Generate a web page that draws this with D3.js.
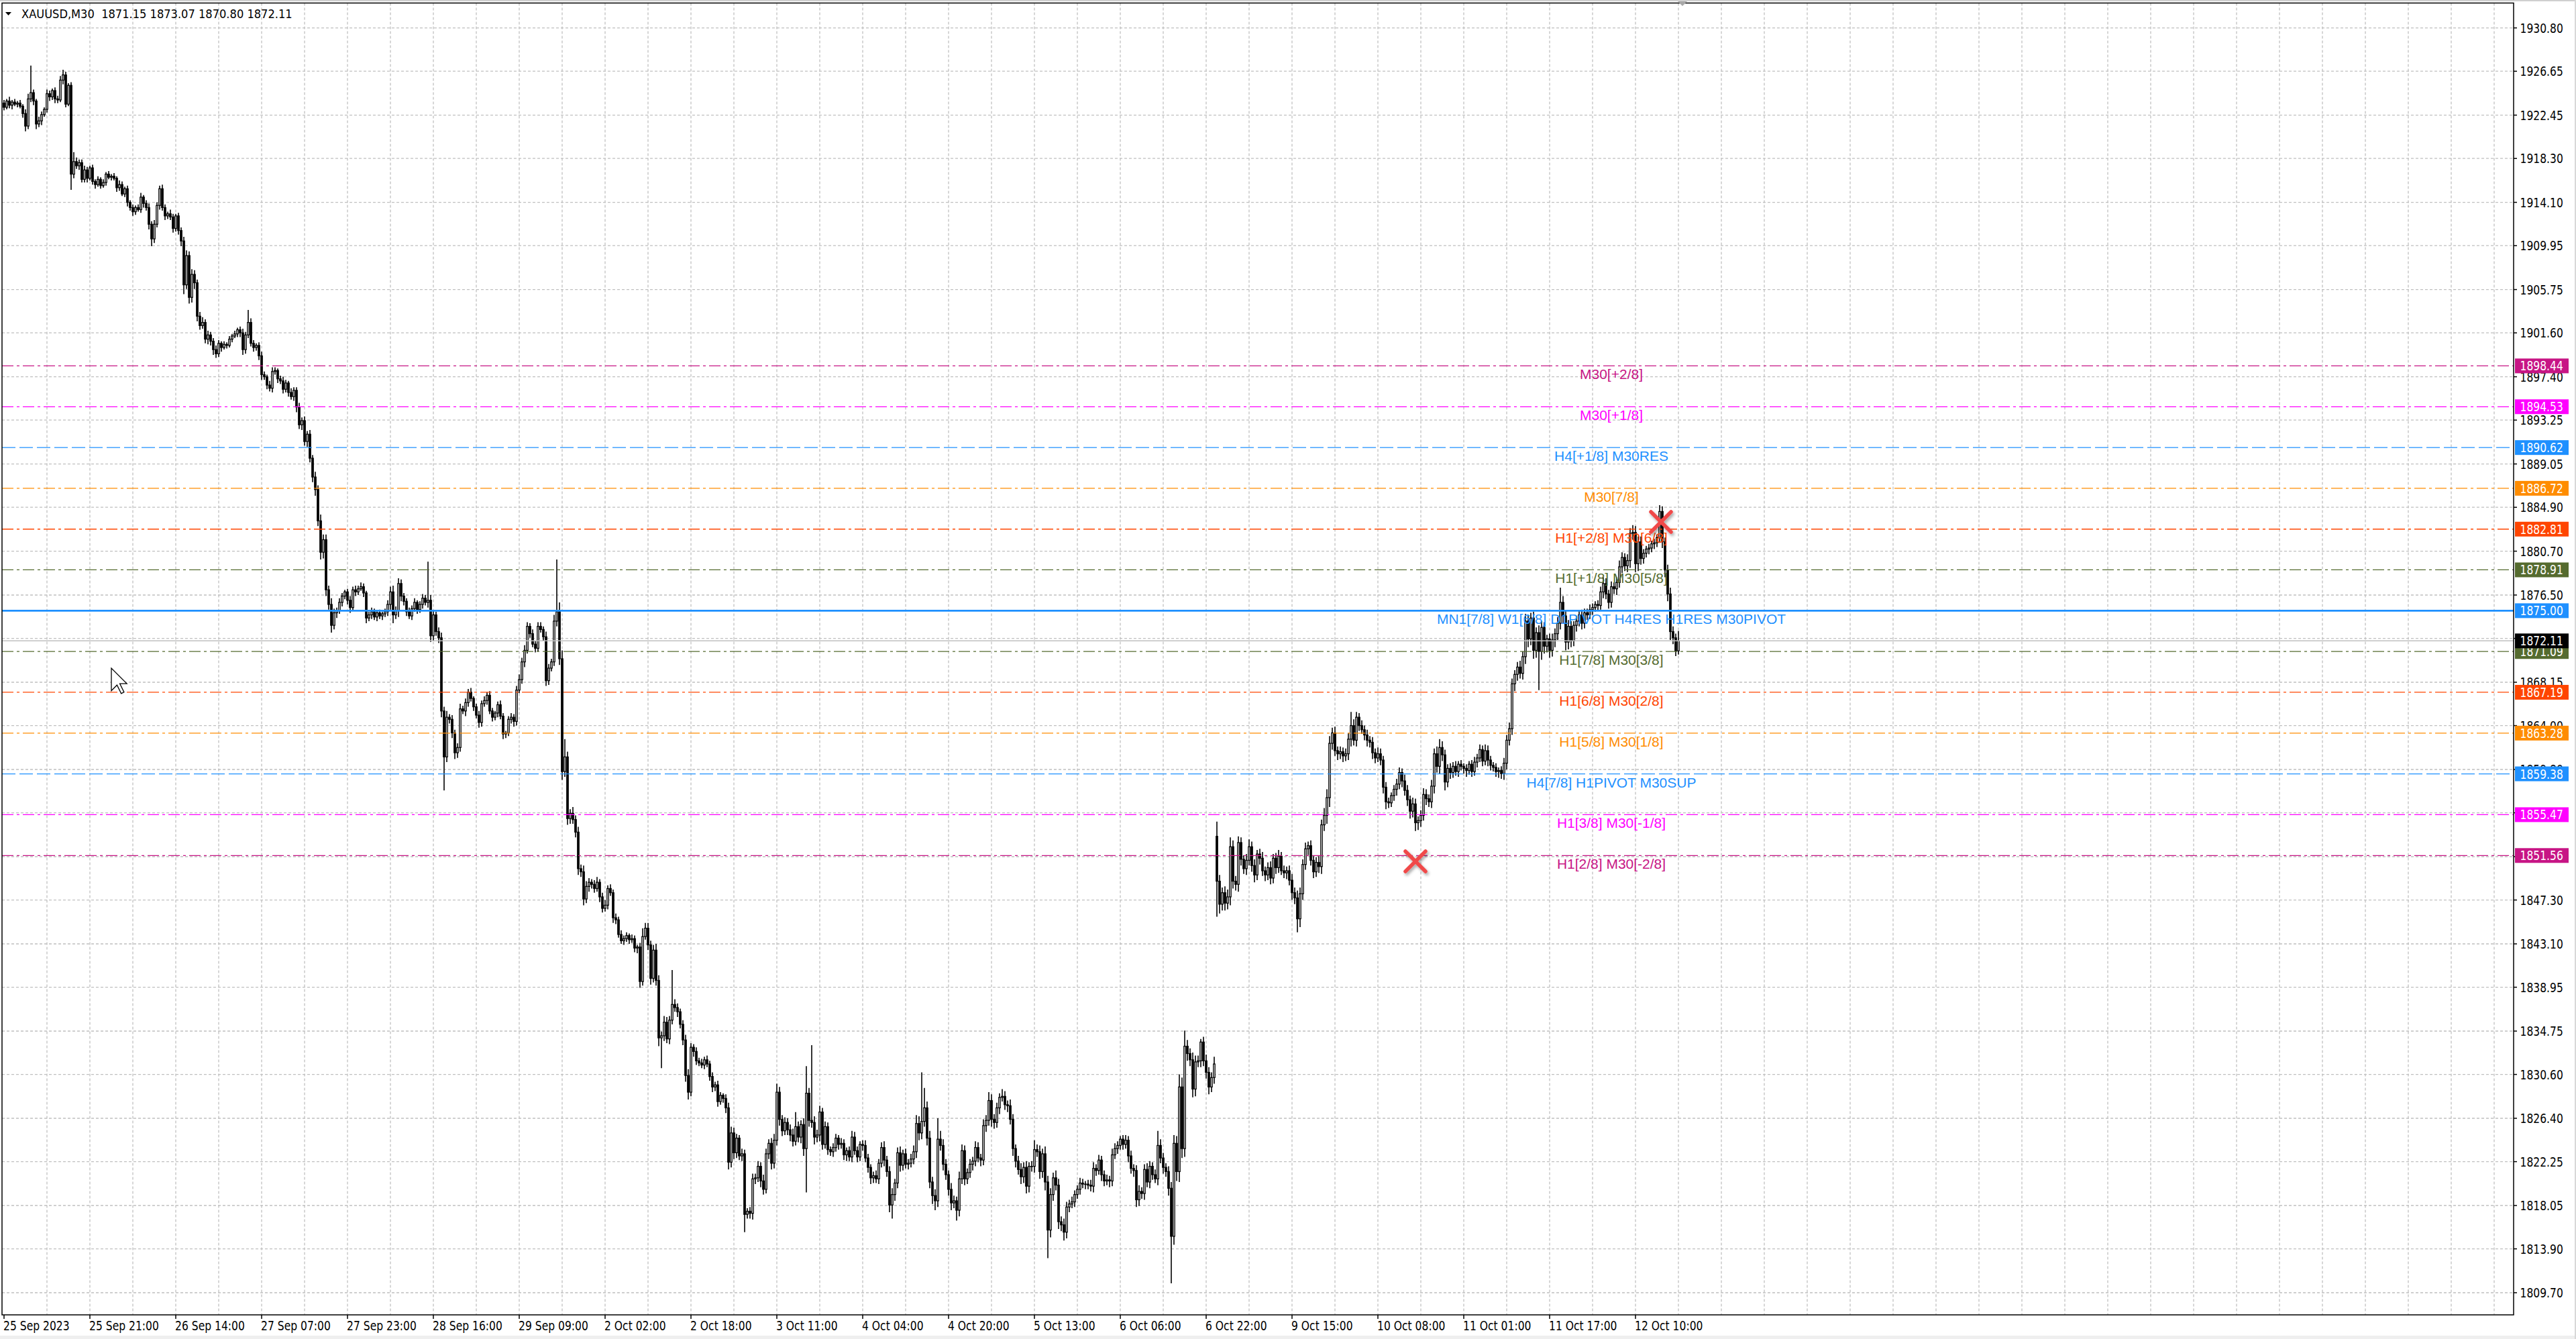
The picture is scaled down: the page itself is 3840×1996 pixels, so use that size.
<!DOCTYPE html>
<html>
<head>
<meta charset="utf-8">
<script src="https://cdn.jsdelivr.net/npm/d3@7"></script>
<style>
html, body { margin: 0; padding: 0; background: #fff; overflow: hidden; }
svg { display: block; }
</style>
</head>
<body>
<svg id="chart" width="3840" height="1996"></svg>
<script>
// XAUUSD M30 chart, 25 Sep - 12 Oct 2023

const symbolTitle = 'XAUUSD,M30';
const lastOHLC = [1871.15, 1873.07, 1870.80, 1872.11];
const bidPrice = 1872.11;

// open of the first bar and of the bar after the weekend gap,
// every other bar opens at the previous close
const firstOpen = 1923.6;
const gapOpen = {452: 1853.4};

const closes = [
  1923.2, 1923.8, 1923.4, 1923.7, 1923.5, 1923.6, 1923.3, 1922.6, 1921.4, 1924.0,
  1924.6, 1923.8, 1921.6, 1921.9, 1922.5, 1923.0, 1924.5, 1924.2, 1924.8, 1924.0,
  1923.9, 1925.8, 1926.3, 1923.5, 1925.3, 1916.8, 1918.0, 1917.6, 1917.9, 1916.3,
  1917.2, 1916.4, 1917.4, 1916.1, 1915.8, 1916.3, 1915.7, 1916.0, 1916.8, 1916.5,
  1916.6, 1916.4, 1915.5, 1915.8, 1914.9, 1915.4, 1914.1, 1913.6, 1913.2, 1913.6,
  1913.4, 1914.6, 1914.0, 1913.6, 1912.0, 1910.6, 1912.0, 1913.8, 1915.4, 1913.6,
  1912.8, 1913.0, 1912.7, 1911.6, 1912.8, 1911.4, 1910.4, 1906.2, 1909.0, 1905.0,
  1907.2, 1906.4, 1903.2, 1902.3, 1902.6, 1901.0, 1901.4, 1900.8, 1900.0, 1899.6,
  1900.6, 1900.2, 1900.5, 1900.4, 1901.0, 1901.3, 1901.5, 1901.9, 1901.6, 1900.0,
  1901.4, 1902.6, 1900.6, 1900.2, 1900.4, 1899.4, 1897.6, 1897.4, 1896.6, 1896.3,
  1897.9, 1898.0, 1897.2, 1897.0, 1896.2, 1896.8, 1895.9, 1895.5, 1896.1, 1894.5,
  1892.8, 1893.2, 1891.2, 1891.9, 1889.6, 1887.8, 1886.6, 1883.6, 1880.6, 1881.8,
  1877.0, 1875.6, 1873.6, 1874.8, 1875.0, 1875.8, 1876.4, 1876.8, 1876.0, 1875.3,
  1877.0, 1876.8, 1877.1, 1877.3, 1876.7, 1874.3, 1874.6, 1874.9, 1874.4, 1874.8,
  1874.5, 1874.7, 1874.9, 1875.6, 1876.8, 1874.6, 1875.0, 1877.6, 1876.4, 1875.9,
  1874.9, 1874.5, 1875.2, 1875.8, 1875.1, 1875.6, 1876.2, 1875.8, 1876.0, 1872.6,
  1874.6, 1873.0, 1872.4, 1865.4, 1861.0, 1864.8, 1864.6, 1863.3, 1861.4, 1861.9,
  1865.6, 1865.4, 1866.2, 1867.2, 1866.6, 1865.8, 1865.0, 1864.3, 1866.1, 1866.4,
  1866.9, 1865.4, 1864.8, 1865.2, 1866.0, 1864.9, 1863.2, 1863.3, 1864.6, 1864.8,
  1864.4, 1867.4, 1868.4, 1870.1, 1871.2, 1873.5, 1872.8, 1871.8, 1871.4, 1873.5,
  1873.2, 1872.5, 1868.3, 1869.5, 1870.1, 1874.0, 1874.9, 1870.4, 1859.6, 1861.0,
  1855.1, 1855.6, 1855.0, 1853.8, 1850.3, 1850.0, 1847.4, 1848.6, 1849.0, 1848.8,
  1848.4, 1849.0, 1847.6, 1846.5, 1846.8, 1848.4, 1848.0, 1845.6, 1845.4, 1844.0,
  1843.4, 1843.6, 1843.9, 1843.5, 1843.6, 1842.7, 1842.8, 1839.5, 1843.8, 1844.6,
  1843.0, 1839.8, 1842.5, 1839.6, 1834.1, 1834.3, 1835.6, 1834.0, 1835.8, 1837.3,
  1837.0, 1836.6, 1835.4, 1833.9, 1830.5, 1828.9, 1833.2, 1832.8, 1831.9, 1831.7,
  1831.5, 1832.0, 1831.6, 1830.4, 1829.4, 1829.6, 1828.0, 1828.6, 1828.3, 1827.4,
  1822.2, 1825.0, 1823.1, 1824.5, 1822.8, 1823.0, 1817.2, 1817.5, 1817.3, 1820.6,
  1820.7, 1821.8, 1820.4, 1819.6, 1823.0, 1824.0, 1822.1, 1824.3, 1828.9, 1826.3,
  1825.2, 1826.0, 1825.3, 1824.8, 1824.2, 1825.6, 1824.6, 1825.8, 1823.5, 1828.8,
  1826.2, 1826.0, 1824.6, 1824.8, 1827.0, 1823.9, 1825.6, 1823.4, 1823.2, 1823.6,
  1824.5, 1823.9, 1824.0, 1822.9, 1823.3, 1822.7, 1824.6, 1823.3, 1822.7, 1823.9,
  1823.8, 1822.6, 1821.7, 1820.7, 1820.9, 1820.6, 1822.1, 1823.6, 1822.4, 1821.3,
  1818.1, 1819.1, 1820.2, 1823.1, 1821.9, 1823.0, 1822.0, 1822.1, 1822.5, 1823.2,
  1825.9, 1825.0, 1826.1, 1827.4, 1824.5, 1820.3, 1819.0, 1818.5, 1824.4, 1823.8,
  1822.0, 1821.0, 1819.6, 1818.3, 1818.5, 1817.6, 1820.6, 1823.3, 1820.6, 1821.2,
  1822.0, 1822.3, 1823.6, 1822.6, 1822.4, 1825.7, 1826.2, 1828.1, 1826.3, 1826.0,
  1827.4, 1828.4, 1828.5, 1827.7, 1827.6, 1826.3, 1823.5, 1822.3, 1821.5, 1820.8,
  1821.7, 1819.9, 1821.8, 1821.8, 1823.4, 1823.2, 1821.3, 1823.0, 1820.3, 1815.7,
  1819.1, 1820.7, 1820.0, 1816.5, 1816.2, 1815.5, 1817.9, 1818.2, 1818.4, 1819.1,
  1819.6, 1820.2, 1820.1, 1820.1, 1820.0, 1819.9, 1821.6, 1821.4, 1822.4, 1821.0,
  1820.4, 1820.5, 1820.4, 1822.9, 1823.5, 1823.8, 1824.4, 1823.9, 1824.3, 1822.8,
  1821.6, 1821.4, 1818.6, 1819.4, 1819.2, 1821.5, 1820.3, 1821.8, 1821.0, 1820.6,
  1823.8, 1822.6, 1821.7, 1821.3, 1819.7, 1815.1, 1824.0, 1821.3, 1829.4, 1823.5,
  1833.3, 1832.6, 1832.0, 1829.2, 1831.8, 1831.9, 1833.7, 1831.9, 1830.8, 1829.4,
  1830.3, 1831.6, 1849.1, 1846.9, 1848.0, 1847.0, 1847.6, 1852.4, 1849.1, 1848.8,
  1852.8, 1851.2, 1850.3, 1851.1, 1852.4, 1850.6, 1849.7, 1851.7, 1851.3, 1850.1,
  1849.7, 1850.4, 1849.4, 1851.3, 1850.4, 1851.5, 1850.1, 1849.9, 1850.1, 1849.2,
  1848.0, 1847.5, 1845.5, 1847.9, 1850.7, 1852.2, 1852.5, 1851.1, 1850.0, 1850.9,
  1850.5, 1854.5, 1855.4, 1857.1, 1862.3, 1863.3, 1861.6, 1861.3, 1861.5, 1861.1,
  1861.3, 1862.7, 1864.0, 1862.6, 1864.8, 1864.0, 1863.6, 1863.1, 1862.6, 1862.4,
  1861.4, 1860.9, 1861.3, 1860.7, 1858.1, 1856.7, 1856.6, 1857.3, 1857.9, 1858.4,
  1859.5, 1858.7, 1857.8, 1856.9, 1855.8, 1856.5, 1854.7, 1854.9, 1855.4, 1857.4,
  1857.0, 1856.7, 1858.2, 1861.3, 1860.1, 1861.9, 1861.2, 1858.6, 1859.9, 1859.5,
  1860.1, 1859.6, 1860.3, 1860.1, 1859.9, 1859.7, 1860.3, 1859.6, 1860.5, 1860.9,
  1861.7, 1860.6, 1861.6, 1860.7, 1860.2, 1860.0, 1859.6, 1859.7, 1859.4, 1860.4,
  1862.6, 1863.7, 1868.0, 1868.9, 1869.6, 1869.0, 1870.6, 1874.0, 1872.3, 1874.3,
  1871.2, 1872.9, 1871.1, 1873.4, 1871.6, 1872.3, 1871.2, 1872.2, 1872.8, 1873.8,
  1875.8, 1874.5, 1872.0, 1873.5, 1872.1, 1873.6, 1874.0, 1874.6, 1873.8, 1874.8,
  1874.6, 1875.1, 1875.3, 1875.6, 1875.5, 1876.8, 1877.6, 1876.6, 1875.8, 1877.3,
  1877.1, 1877.7, 1879.2, 1880.1, 1879.3, 1879.8, 1882.4, 1882.5, 1879.5, 1881.6,
  1880.0, 1880.5, 1880.9, 1881.0, 1881.4, 1881.5, 1882.0, 1884.5, 1881.6, 1878.9,
  1876.6, 1873.0, 1872.4, 1871.15, 1872.11
];

// upper and lower shadows, in tenths of a dollar beyond the body
const wickHi = [
  3,2,4,2,3,2,3,2,4,5, 26,3,2,4,3,2,4,3,2,3, 3,4,5,3,2,3,9,4,3,3, 4,3,2,3,2,3,2,3,2,3,
  2,3,2,4,3,2,3,2,3,2, 3,4,2,3,4,3,4,3,3,4, 3,2,4,3,2,3,3,4,5,4, 5,4,3,4,5,3,4,3,3,4,
  3,2,3,2,3,2,3,2,3,4, 3,12,4,3,2,3,4,3,2,4, 4,3,2,3,4,3,2,4,3,3, 4,3,4,3,4,3,5,4,6,5,
  5,4,6,4,3,4,3,2,3,4, 3,4,3,4,3,2,3,4,3,2, 3,2,3,4,5,6,4,5,4,3, 3,4,3,4,2,3,4,3,37,5,
  4,3,4,5,4,6,3,4,3,4, 5,3,4,3,4,2,3,4,3,4, 3,4,3,2,3,4,3,2,3,4, 3,4,5,4,5,4,3,4,3,4,
  4,3,5,4,3,6,50,9,8,17, 5,4,6,4,5,4,6,5,4,3, 4,5,3,4,5,3,4,3,4,3, 4,3,3,2,4,3,2,4,8,5,
  5,4,5,6,5,4,6,5,4,33, 5,4,3,4,5,6,4,3,4,3, 4,3,4,3,4,3,4,3,2,4, 5,6,5,4,3,5,4,3,4,5,
  4,5,4,6,5,4,5,6,8,5, 4,5,4,5,6,14,5,4,6,26, 5,72,6,5,6,4,5,4,3,4, 4,3,5,4,3,4,6,5,4,3,
  4,5,4,3,4,5,4,5,6,4, 5,6,4,5,6,4,5,4,5,6, 8,7,47,19,6,7,5,6,20,8, 6,5,4,6,5,4,7,6,5,4,
  5,4,6,5,4,6,5,8,6,5, 5,4,7,5,4,6,5,4,5,6, 5,6,4,5,9,5,6,5,7,6, 6,5,7,6,5,6,5,4,5,4,
  4,5,4,3,4,5,6,4,5,4, 4,5,4,6,5,4,3,4,5,4, 5,4,5,6,4,5,6,5,4,5, 14,6,5,4,5,6,8,7,12,9,
  15,6,5,7,6,5,3,5,6,5, 5,7,14,6,5,6,7,9,6,5, 6,5,4,6,7,5,6,4,5,6, 4,5,6,4,5,6,4,5,4,5,
  6,5,7,6,5,6,4,5,4,5, 6,5,7,8,7,5,6,4,5,4, 5,6,13,6,5,4,5,4,5,4, 5,4,6,5,4,5,4,3,4,5,
  5,4,6,5,4,6,5,4,5,6, 5,4,6,5,7,8,6,5,4,5, 4,5,3,4,3,4,3,4,5,4, 5,4,6,5,4,3,4,3,4,5,
  5,6,5,4,5,6,5,7,6,5, 6,5,7,6,5,4,5,6,5,6, 14,6,5,6,5,4,5,4,5,4, 4,5,4,3,4,5,6,5,4,5,
  4,5,6,5,4,6,5,7,6,5, 5,4,3,4,3,4,3,6,5,4, 5,6,5,4,9.6
];
const wickLo = [
  3,2,3,4,2,3,2,4,5,3, 3,4,5,3,4,2,3,4,3,4, 3,2,4,3,2,15,4,3,4,3, 3,4,2,3,4,2,3,2,3,2,
  3,2,4,3,2,3,4,3,4,3, 2,3,4,3,5,7,4,3,4,3, 4,3,3,4,3,4,5,9,4,6, 5,6,5,4,3,4,5,4,5,4,
  3,4,2,3,2,3,2,3,4,5, 4,3,3,4,3,4,5,3,4,3, 4,3,4,3,4,3,4,3,4,5, 4,5,4,5,4,5,6,5,7,6,
  6,5,7,4,5,3,4,3,4,5, 3,4,3,2,4,5,3,4,3,4, 3,4,3,4,5,8,4,6,5,4, 4,3,4,3,4,3,4,3,5,6,
  5,4,5,6,32,5,4,5,6,5, 4,3,5,4,3,4,3,5,4,3, 4,3,4,3,4,3,5,4,3,4, 5,4,3,4,5,3,4,3,4,3,
  3,4,5,4,3,4,5,6,8,5, 6,5,4,5,6,5,6,4,5,4, 4,3,5,4,3,4,3,5,4,3, 3,4,3,4,3,4,5,6,4,3,
  5,6,4,5,8,29,5,4,5,4, 4,5,4,5,6,7,4,5,4,3, 3,4,3,4,5,4,5,3,4,5, 7,5,6,5,4,5,17,4,5,6,
  5,4,6,5,4,5,6,5,5,6, 5,4,5,6,5,4,5,6,7,42, 6,5,7,5,6,5,4,5,4,5, 4,5,4,5,6,4,5,4,5,4,
  5,4,5,6,5,4,5,4,6,5, 7,13,6,5,6,5,4,5,4,5, 6,7,6,5,7,6,8,9,6,5, 6,5,6,7,5,10,6,5,6,5,
  5,6,5,4,6,5,6,5,7,6, 5,6,4,5,6,5,7,6,5,7, 6,7,6,5,6,5,7,6,8,27, 7,6,5,7,6,8,6,5,4,5,
  4,5,4,5,4,5,6,5,4,6, 5,4,6,5,4,5,4,5,4,6, 5,6,7,6,5,6,5,6,5,4, 6,5,6,5,7,45,8,9,10,9,
  8,7,6,8,7,5,6,5,6,7, 5,6,34,9,6,7,6,8,7,6, 7,6,5,6,5,6,7,5,6,5, 6,5,6,5,6,5,4,5,6,5,
  7,6,13,8,6,5,6,5,6,5, 6,7,6,8,9,6,5,6,5,6, 5,6,7,5,6,5,4,5,6,5, 6,5,4,5,6,7,5,4,5,6,
  5,6,5,6,7,6,8,7,6,5, 6,5,6,7,6,7,6,8,5,6, 5,4,5,4,5,6,4,5,4,5, 4,5,4,6,5,4,5,6,5,6,
  6,5,6,7,6,5,6,7,8,6, 8,7,37,8,7,6,7,6,7,6, 6,7,8,7,6,5,6,5,6,5, 5,4,5,4,5,4,6,5,6,5,
  5,6,5,6,5,6,7,6,8,7, 6,5,4,5,4,5,4,5,6,7, 7,8,6,5,3.5
];

// time labels, one every 32 bars starting at the first bar
const timeLabels = [
  '25 Sep 2023', '25 Sep 21:00', '26 Sep 14:00', '27 Sep 07:00', '27 Sep 23:00',
  '28 Sep 16:00', '29 Sep 09:00', '2 Oct 02:00', '2 Oct 18:00', '3 Oct 11:00',
  '4 Oct 04:00', '4 Oct 20:00', '5 Oct 13:00', '6 Oct 06:00', '6 Oct 22:00',
  '9 Oct 15:00', '10 Oct 08:00', '11 Oct 01:00', '11 Oct 17:00', '12 Oct 10:00'
];

const priceTicks = [
  1930.80, 1926.65, 1922.45, 1918.30, 1914.10, 1909.95, 1905.75, 1901.60, 1897.40, 1893.25,
  1889.05, 1884.90, 1880.70, 1876.50, 1872.35, 1868.15, 1864.00, 1859.80, 1855.65, 1851.45,
  1847.30, 1843.10, 1838.95, 1834.75, 1830.60, 1826.40, 1822.25, 1818.05, 1813.90, 1809.70
];

// Murrey math / pivot levels
const levelPrices = [
  1898.44, 1894.53, 1890.62, 1886.72, 1882.81, 1878.91, 1875.00,
  1871.09, 1867.19, 1863.28, 1859.38, 1855.47, 1851.56
];
const levelNames = [
  'M30[+2/8]', 'M30[+1/8]', 'H4[+1/8] M30RES', 'M30[7/8]', 'H1[+2/8] M30[6/8]',
  'H1[+1/8] M30[5/8]', 'MN1[7/8] W1[6/8] D1PIVOT H4RES H1RES M30PIVOT',
  'H1[7/8] M30[3/8]', 'H1[6/8] M30[2/8]', 'H1[5/8] M30[1/8]', 'H4[7/8] H1PIVOT M30SUP',
  'H1[3/8] M30[-1/8]', 'H1[2/8] M30[-2/8]'
];

// crossed signals
const markerBars = [526, 617.5];
const markerPrices = [1851.0, 1883.5];

// ---- styles ----
const levelColors = [
  '#C71585', '#FF00FF', '#1E90FF', '#FF8C00', '#FF4500', '#556B2F', '#1E90FF',
  '#556B2F', '#FF4500', '#FF8C00', '#1E90FF', '#FF00FF', '#C71585'
];
const DASHDOT = '17,5,4,5';
const DASH = '20,6';
const levelDash = [
  DASHDOT, DASHDOT, DASH, DASHDOT, DASHDOT, DASHDOT, null,
  DASHDOT, DASHDOT, DASHDOT, DASH, DASHDOT, DASHDOT
];
const levelWidth = [1.3, 1.3, 1.3, 1.3, 1.3, 1.3, 2.6, 1.3, 1.3, 1.3, 1.3, 1.3, 1.3];

const W = 3840, H = 1996;
const plot = {left: 3, top: 4.5, right: 3747, bottom: 1960};
const barStep = 4;
const axisFont = '"DejaVu Sans", Verdana, sans-serif';
const axisSize = 19;
const axisStretch = 0.82;
const gridColor = '#c0c0c0';

const svg = d3.select('#chart');

const n = closes.length;
const candles = closes.map(function(c, i) {
	let o = closes[i - 1];
	if (i === 0) o = firstOpen;
	if (gapOpen[i] !== undefined) o = gapOpen[i];
	return {
		i: i, o: o, c: c,
		h: Math.max(o, c) + wickHi[i] / 10,
		l: Math.min(o, c) - wickLo[i] / 10
	};
});

const x = d3.scaleLinear().domain([0, n - 1]).range([6, 6 + barStep * (n - 1)]);
const y = d3.scaleLinear().domain([1809.70, 1930.80]).range([1927.0, 41.6]);

// horizontally squeezed text, the chart font is narrower than DejaVu
function squeezed(g, px, py, sx) {
	return g.append('text').attr('transform', 'translate(' + px + ',' + py + ') scale(' + sx + ',1)');
}

// background + window edges
svg.append('rect').attr('width', W).attr('height', H).attr('fill', '#fff');
svg.append('rect').attr('x', 0).attr('y', 0).attr('width', W).attr('height', 2).attr('fill', '#cfcfcf');
svg.append('rect').attr('x', 0).attr('y', H - 5).attr('width', W).attr('height', 5).attr('fill', '#efefef');
svg.append('rect').attr('x', W - 2).attr('y', 0).attr('width', 2).attr('height', H).attr('fill', '#d8d8d8');

svg.append('defs').append('clipPath').attr('id', 'plotClip')
	.append('rect')
	.attr('x', plot.left).attr('y', plot.top)
	.attr('width', plot.right - plot.left).attr('height', plot.bottom - plot.top);

const grid = svg.append('g').attr('clip-path', 'url(#plotClip)');

// grid
grid.selectAll('line.hgrid')
	.data(priceTicks)
	.enter().append('line')
	.attr('class', 'hgrid')
	.attr('x1', plot.left).attr('x2', plot.right)
	.attr('y1', function(d) { return y(d); })
	.attr('y2', function(d) { return y(d); })
	.attr('stroke', gridColor).attr('stroke-width', 1.3)
	.attr('stroke-dasharray', '4,3');

const vgrid = [];
for (let b = 16; x(b) < plot.right; b += 16) vgrid.push(b);
grid.selectAll('line.vgrid')
	.data(vgrid)
	.enter().append('line')
	.attr('class', 'vgrid')
	.attr('x1', function(d) { return x(d); })
	.attr('x2', function(d) { return x(d); })
	.attr('y1', plot.top).attr('y2', plot.bottom)
	.attr('stroke', gridColor).attr('stroke-width', 1.3)
	.attr('stroke-dasharray', '4,3');

// candles
const cg = svg.append('g').attr('clip-path', 'url(#plotClip)');

cg.selectAll('line.wick')
	.data(candles)
	.enter().append('line')
	.attr('class', 'wick')
	.attr('x1', function(d) { return x(d.i); })
	.attr('x2', function(d) { return x(d.i); })
	.attr('y1', function(d) { return y(d.h); })
	.attr('y2', function(d) { return y(d.l); })
	.attr('stroke', '#000').attr('stroke-width', 1.6);

cg.selectAll('rect.body')
	.data(candles)
	.enter().append('rect')
	.attr('class', 'body')
	.attr('x', function(d) { return x(d.i) - 1.2; })
	.attr('width', 2.4)
	.attr('y', function(d) { return y(Math.max(d.o, d.c)); })
	.attr('height', function(d) { return Math.max(0.5, Math.abs(y(d.o) - y(d.c))); })
	.attr('fill', function(d) { return d.c >= d.o ? '#fff' : '#000'; })
	.attr('stroke', '#000').attr('stroke-width', 1.3);

// levels
const lv = svg.append('g').attr('clip-path', 'url(#plotClip)');

lv.append('line')
	.attr('x1', plot.left).attr('x2', plot.right)
	.attr('y1', y(bidPrice)).attr('y2', y(bidPrice))
	.attr('stroke', '#c0c0c0').attr('stroke-width', 1.5);

lv.selectAll('line.level')
	.data(levelPrices)
	.enter().append('line')
	.attr('class', 'level')
	.attr('x1', plot.left).attr('x2', plot.right)
	.attr('y1', function(d) { return y(d); })
	.attr('y2', function(d) { return y(d); })
	.attr('stroke', function(d, i) { return levelColors[i]; })
	.attr('stroke-width', function(d, i) { return levelWidth[i]; })
	.attr('stroke-dasharray', function(d, i) { return levelDash[i]; });

lv.selectAll('text.levelName')
	.data(levelPrices)
	.enter().append('text')
	.attr('class', 'levelName')
	.attr('x', x(599))
	.attr('y', function(d) { return y(d) + 20; })
	.attr('text-anchor', 'middle')
	.attr('font-family', '"Liberation Sans", Arial, sans-serif')
	.attr('font-size', 21)
	.attr('fill', function(d, i) { return levelColors[i]; })
	.text(function(d, i) { return levelNames[i]; });

// red crosses
const shadow = svg.select('defs').append('filter').attr('id', 'xShadow')
	.attr('x', '-50%').attr('y', '-50%').attr('width', '200%').attr('height', '200%');
shadow.append('feDropShadow')
	.attr('dx', 2).attr('dy', 3).attr('stdDeviation', 2)
	.attr('flood-color', '#000').attr('flood-opacity', 0.35);

const mk = svg.append('g').attr('filter', 'url(#xShadow)');
markerBars.forEach(function(b, i) {
	const cx = x(b), cy = y(markerPrices[i]), r = 15;
	mk.append('path')
		.attr('d', 'M' + (cx - r) + ',' + (cy - r) + 'L' + (cx + r) + ',' + (cy + r) +
			'M' + (cx + r) + ',' + (cy - r) + 'L' + (cx - r) + ',' + (cy + r))
		.attr('stroke', '#f04848').attr('stroke-width', 5.5)
		.attr('stroke-linecap', 'round').attr('fill', 'none');
});

// frame
svg.append('rect')
	.attr('x', plot.left).attr('y', plot.top)
	.attr('width', plot.right - plot.left).attr('height', plot.bottom - plot.top)
	.attr('fill', 'none').attr('stroke', '#000').attr('stroke-width', 1.5);

// chart shift marker
svg.append('path')
	.attr('d', 'M2501,2L2515,2L2508,9Z')
	.attr('fill', '#a8a8a8');

// price scale
const ax = svg.append('g');
ax.selectAll('line.ptick')
	.data(priceTicks)
	.enter().append('line')
	.attr('class', 'ptick')
	.attr('x1', plot.right).attr('x2', plot.right + 5)
	.attr('y1', function(d) { return y(d); })
	.attr('y2', function(d) { return y(d); })
	.attr('stroke', '#000').attr('stroke-width', 1.5);

priceTicks.forEach(function(p) {
	squeezed(ax, 3756.5, y(p) + 7, axisStretch)
		.attr('font-family', axisFont).attr('font-size', axisSize)
		.attr('fill', '#000')
		.text(p.toFixed(2));
});

// price tags of the levels and the bid
const tagPrices = levelPrices.concat([bidPrice]);
const tagColors = levelColors.concat(['#000']);
tagPrices.forEach(function(p, i) {
	ax.append('rect')
		.attr('x', 3749).attr('y', y(p) - 11)
		.attr('width', 80).attr('height', 22)
		.attr('fill', tagColors[i]);
	squeezed(ax, 3756.5, y(p) + 7, axisStretch)
		.attr('font-family', axisFont).attr('font-size', axisSize)
		.attr('fill', '#fff')
		.text(p.toFixed(2));
});

// time scale
const tx = svg.append('g');
timeLabels.forEach(function(t, k) {
	const px = x(k * 32);
	tx.append('line')
		.attr('x1', px).attr('x2', px)
		.attr('y1', plot.bottom).attr('y2', plot.bottom + 6)
		.attr('stroke', '#000').attr('stroke-width', 1.5);
	squeezed(tx, px - 1, 1983, axisStretch)
		.attr('font-family', axisFont).attr('font-size', axisSize)
		.attr('fill', '#000')
		.text(t);
});

// title line
svg.append('path').attr('d', 'M8,18L17,18L12.5,23Z').attr('fill', '#000');
squeezed(svg, 32, 26.5, 0.88)
	.attr('font-family', axisFont).attr('font-size', 18.5)
	.attr('fill', '#000')
	.style('white-space', 'pre')
	.text(symbolTitle + '  ' + lastOHLC.map(function(v) { return v.toFixed(2); }).join(' '));

// mouse pointer left in the screenshot
const ptr = [[0,0],[0,16],[4,12],[7,18],[9,17],[6,11],[11,11]];
svg.append('path')
	.attr('d', 'M' + ptr.map(function(p) { return (166 + p[0] * 2.1) + ',' + (996 + p[1] * 2.1); }).join('L') + 'Z')
	.attr('fill', '#fff').attr('stroke', '#000').attr('stroke-width', 1.3);
</script>
</body>
</html>
